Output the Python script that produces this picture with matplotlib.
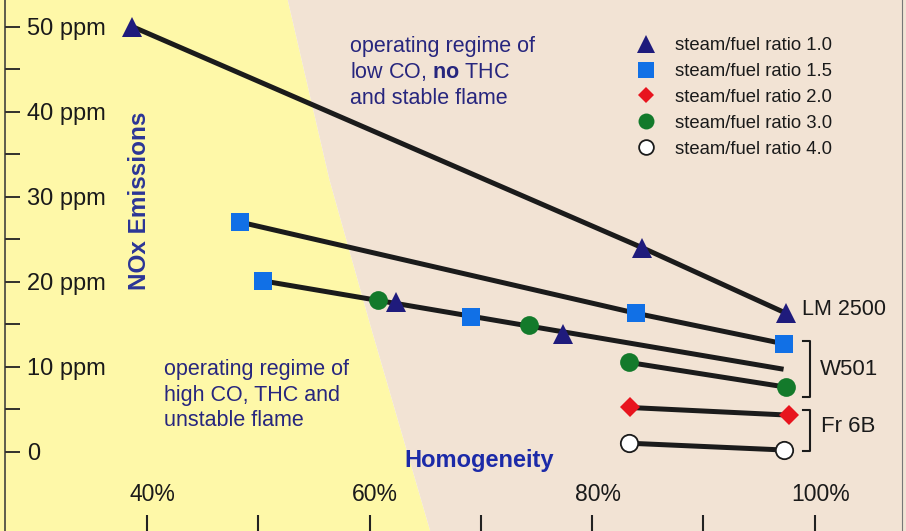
import numpy as np
import matplotlib.pyplot as plt

plt.rcParams['font.family'] = ['Liberation Sans', 'DejaVu Sans']
plt.rcParams['mathtext.fontset'] = 'custom'
plt.rcParams['mathtext.rm'] = 'Liberation Sans'
plt.rcParams['mathtext.bf'] = 'Liberation Sans:bold'

# --- values (x = homogeneity in %, y = NOx in ppm) ---
ratio_labels = ['steam/fuel ratio 1.0', 'steam/fuel ratio 1.5', 'steam/fuel ratio 2.0',
                'steam/fuel ratio 3.0', 'steam/fuel ratio 4.0']

tri_x = [38.7, 84.5, 97.4, 62.4, 77.4]
tri_y = [50.0, 24.0, 16.3, 17.6, 13.9]
sq_x = [48.4, 83.9, 97.2, 50.4, 69.1]
sq_y = [27.0, 16.3, 12.7, 20.1, 15.9]
dia_x = [83.4, 97.7]
dia_y = [5.2, 4.3]
grn_x = [83.3, 97.4, 60.8, 74.3]
grn_y = [10.5, 7.6, 17.9, 14.9]
wht_x = [83.3, 97.2]
wht_y = [1.0, 0.2]

# connecting lines (one per test series)
lm2500_x, lm2500_y = [38.7, 84.5, 97.4], [50.0, 24.0, 16.3]
w501a_x, w501a_y = [48.4, 83.9, 97.2], [27.0, 16.3, 12.7]
w501b_x, w501b_y = [50.4, 97.2], [20.1, 9.7]
w501c_x, w501c_y = [83.3, 97.4], [10.5, 7.6]
fr6ba_x, fr6ba_y = [83.4, 97.7], [5.2, 4.3]
fr6bb_x, fr6bb_y = [83.3, 97.2], [1.0, 0.2]

# border between the two operating regimes
bound_x = [52.5, 56.4, 60.2, 65.6]
bound_y = [54.0, 32.0, 14.3, -10.0]

x_ticks = [40, 50, 60, 70, 80, 90, 100]
x_labels = {40: '40%', 60: '60%', 80: '80%', 100: '100%'}
y_ticks = [0, 5, 10, 15, 20, 25, 30, 35, 40, 45, 50]
y_labels = {0: '0', 10: '10 ppm', 20: '20 ppm', 30: '30 ppm', 40: '40 ppm', 50: '50 ppm'}

YELLOW = '#fef8a8'
BEIGE = '#f2e3d4'
NAVY = '#27267e'
AXBLUE = '#2b3596'
LINE = '#1b1b1b'

fig = plt.figure(figsize=(9.06, 5.31), dpi=100)
ax = fig.add_axes([0, 0, 1, 1])
ax.set_xlim(26.8, 108.2)
ax.set_ylim(-9.33, 53.14)

ax.fill_betweenx(bound_y, 20, bound_x, color=YELLOW, lw=0, zorder=0)
ax.fill_betweenx(bound_y, bound_x, 115, color=BEIGE, lw=0, zorder=0)

for lx, ly in [(lm2500_x, lm2500_y), (w501a_x, w501a_y), (w501b_x, w501b_y),
               (w501c_x, w501c_y), (fr6ba_x, fr6ba_y), (fr6bb_x, fr6bb_y)]:
    ax.plot(lx, ly, color=LINE, lw=3.6, solid_capstyle='butt', zorder=2)

ax.plot(tri_x, tri_y, ls='none', marker='^', ms=14.5, color='#1f1b7c', mew=0,
        label=ratio_labels[0], zorder=3)
ax.plot(sq_x, sq_y, ls='none', marker='s', ms=13.5, color='#1170e6', mew=0,
        label=ratio_labels[1], zorder=3)
ax.plot(dia_x, dia_y, ls='none', marker='D', ms=9.8, color='#e8141e', mew=0,
        label=ratio_labels[2], zorder=3)
ax.plot(grn_x, grn_y, ls='none', marker='o', ms=13.5, color='#137a2b', mew=0,
        label=ratio_labels[3], zorder=3)
ax.plot(wht_x, wht_y, ls='none', marker='o', ms=12.5, mfc='white', mec=LINE, mew=1.3,
        label=ratio_labels[4], zorder=3)

leg = ax.legend(loc='upper left', bbox_to_anchor=(0.703, 0.93), frameon=False,
                fontsize=13.3, handlelength=1.0, handletextpad=1.05, labelspacing=0.48,
                borderpad=0, borderaxespad=0, markerscale=0.85)
for t in leg.get_texts():
    t.set_color('#1a1a1a')

# spines and ticks
for s in ['top', 'bottom']:
    ax.spines[s].set_visible(False)
ax.spines['left'].set_position(('data', 27.25))
ax.spines['right'].set_position(('data', 107.8))
ax.spines['left'].set_color('#333333')
ax.spines['left'].set_linewidth(1.1)
ax.spines['right'].set_color('#777777')
ax.spines['right'].set_linewidth(0.8)

ax.set_yticks(y_ticks)
ax.set_yticklabels([])
ax.tick_params(axis='y', direction='in', length=11, width=1.3, color='#222222')
ax.set_xticks(x_ticks)
ax.set_xticklabels([])
ax.tick_params(axis='x', direction='in', length=11.5, width=1.5, color='#222222')

for v, s in y_labels.items():
    ax.text(0.03, v, s, transform=ax.get_yaxis_transform(), ha='left',
            va='center_baseline', fontsize=17, color='#1a1a1a')
for v, s in x_labels.items():
    ax.text(v + 0.5, 0.069, s, transform=ax.get_xaxis_transform(), ha='center',
            va='center', fontsize=16.5, color='#1a1a1a')

ax.text(140 / 906, 1 - 201 / 531, 'NOx Emissions', transform=ax.transAxes, rotation=90,
        ha='center', va='center', fontsize=17.5, fontweight='bold', color=AXBLUE)
ax.text(479 / 906, 1 - 461 / 531, 'Homogeneity', transform=ax.transAxes,
        ha='center', va='center', fontsize=17, fontweight='bold', color='#1c2aa8')

# regime notes
for i, s in enumerate(['operating regime of', r'low CO, $\mathbf{no}$ THC', 'and stable flame']):
    ax.text(350 / 906, 1 - (52 + 26 * i) / 531, s, transform=ax.transAxes,
            ha='left', va='baseline', fontsize=15.5, color=NAVY)
for i, s in enumerate(['operating regime of', 'high CO, THC and', 'unstable flame']):
    ax.text(164 / 906, 1 - (375 + 25.5 * i) / 531, s, transform=ax.transAxes,
            ha='left', va='baseline', fontsize=15.5, color=NAVY)

# engine labels
ax.text(98.9, 16.7, 'LM 2500', ha='left', va='center', fontsize=15.5, color='#1a1a1a')
ax.plot([98.95, 99.55, 99.55, 98.95], [13.0, 13.0, 6.4, 6.4], color=LINE, lw=1.5)
ax.text(100.5, 9.7, 'W501', ha='left', va='center', fontsize=16, color='#1a1a1a')
ax.plot([98.95, 99.55, 99.55, 98.95], [4.85, 4.85, 0.1, 0.1], color=LINE, lw=1.5)
ax.text(100.6, 3.0, 'Fr 6B', ha='left', va='center', fontsize=16, color='#1a1a1a')

fig.savefig('out.png', dpi=100)
